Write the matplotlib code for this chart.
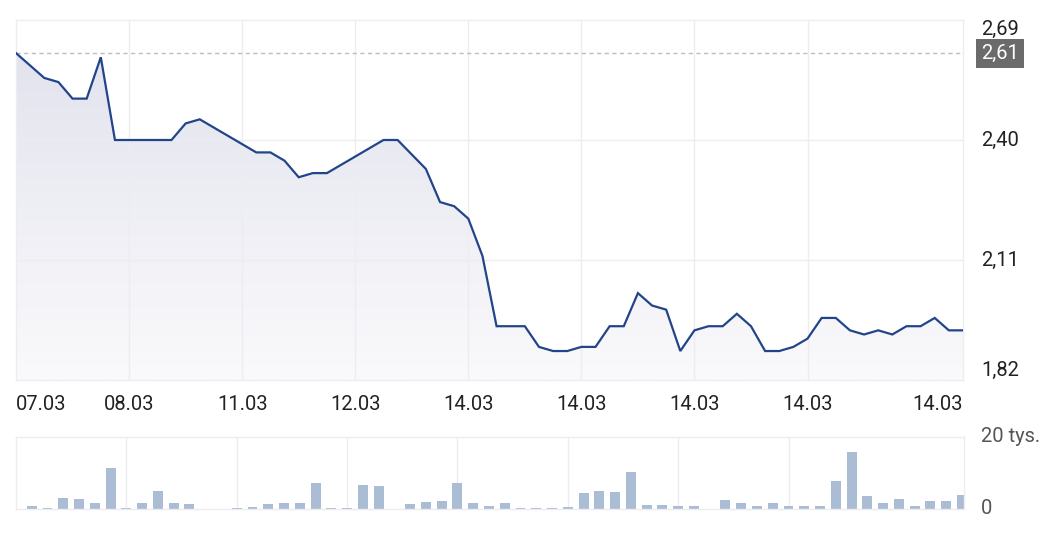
import numpy as np
import matplotlib
matplotlib.use("Agg")
import matplotlib.pyplot as plt
from matplotlib.colors import LinearSegmentedColormap

plt.rcParams['font.family'] = ['Roboto', 'DejaVu Sans']

# ---------------- data ----------------
prices = [2.61, 2.58, 2.55, 2.54, 2.50, 2.50, 2.60, 2.40, 2.40, 2.40,
          2.40, 2.40, 2.44, 2.45, 2.43, 2.41, 2.39, 2.37, 2.37, 2.35,
          2.31, 2.32, 2.32, 2.34, 2.36, 2.38, 2.40, 2.40, 2.365, 2.33,
          2.25, 2.24, 2.21, 2.12, 1.95, 1.95, 1.95, 1.90, 1.89, 1.89,
          1.90, 1.90, 1.95, 1.95, 2.03, 2.00, 1.99, 1.89, 1.94, 1.95,
          1.95, 1.98, 1.95, 1.89, 1.89, 1.90, 1.92, 1.97, 1.97, 1.94,
          1.93, 1.94, 1.93, 1.95, 1.95, 1.97, 1.94, 1.94]

volumes = [720, 360, 3170, 2700, 1720, 11300, 180, 1800, 5070, 1540,
           1360, 0, 0, 360, 630, 1270, 1630, 1720, 7330, 360,
           360, 6600, 6340, 100, 1360, 1810, 2260, 7330, 1540, 810,
           1640, 270, 180, 180, 640, 4550, 5000, 4800, 10300, 1000,
           1000, 730, 900, 0, 2550, 1640, 820, 1730, 820, 910,
           910, 7640, 15700, 3640, 1640, 2730, 820, 2270, 2090, 3860]

x_labels = ["07.03", "08.03", "11.03", "12.03", "14.03", "14.03", "14.03", "14.03", "14.03"]
x_label_idx = [0, 8, 16, 24, 32, 40, 48, 56, 67]
vol_grid_idx = [6, 13, 20, 27, 34, 41, 48]

y_ticks = [2.69, 2.40, 2.11, 1.82]
y_tick_labels = ["2,69", "2,40", "2,11", "1,82"]
ref_price = 2.61
ref_label = "2,61"
vol_max = 20000
vol_labels = ["20 tys.", "0"]

# ---------------- styling ----------------
W, H = 1046, 537
LINE = '#22458a'
GRID = '#ececf1'
BAR = '#abbcd5'
TXT = '#222222'
FS = 14.5

fig = plt.figure(figsize=(W / 100, H / 100), dpi=100)
fig.patch.set_facecolor('white')

# main price axes
ax = fig.add_axes([16 / W, 1 - 380 / H, 947 / W, 360 / H])
x = np.arange(len(prices))
ax.set_xlim(0, len(prices) - 1)
ax.set_ylim(y_ticks[-1], y_ticks[0])

# gradient fill under line
poly = ax.fill_between(x, prices, y_ticks[-1], facecolor='none', edgecolor='none')
grad = np.linspace(0, 1, 256).reshape(-1, 1)
cmap = LinearSegmentedColormap.from_list('g', ['#e1e1ed', '#fafafc'])
im = ax.imshow(grad, extent=[0, len(prices) - 1, y_ticks[-1], y_ticks[0]],
               aspect='auto', cmap=cmap, origin='upper', zorder=1)
path = poly.get_paths()[0]
im.set_clip_path(path, transform=ax.transData)

# grid
for i in x_label_idx[1:-1]:
    ax.axvline(i, color=GRID, lw=1, zorder=2)
for v in y_ticks[1:-1]:
    ax.axhline(v, color=GRID, lw=1, zorder=2)

ax.axhline(ref_price, color='#bdbdbd', lw=1, ls=(0, (3, 2.5)), zorder=3)
ax.plot(x, prices, color=LINE, lw=1.6, zorder=4, solid_joinstyle='miter')

ax.set_xticks([])
ax.set_yticks([])
for s in ax.spines.values():
    s.set_color(GRID)
    s.set_linewidth(1)

ytr = ax.get_yaxis_transform()
vas = ['top', 'center', 'center', 'bottom']
for v, lab, va in zip(y_ticks, y_tick_labels, vas):
    ax.text(1 + 18 / 947, v, lab, transform=ytr, ha='left', va=va,
            fontsize=FS, color=TXT)
ax.text(1 + 18 / 947, ref_price, ref_label, transform=ytr, ha='left', va='center',
        fontsize=FS, color='white',
        bbox=dict(boxstyle='square,pad=0.25', facecolor='#6b6b6b', edgecolor='none'))

xtr = ax.get_xaxis_transform()
for k, (i, lab) in enumerate(zip(x_label_idx, x_labels)):
    ha = 'left' if k == 0 else ('right' if k == len(x_labels) - 1 else 'center')
    ax.text(i, -25 / 360, lab, transform=xtr, ha=ha, va='center',
            fontsize=FS, color=TXT)

# volume axes
vx = fig.add_axes([16 / W, 1 - 509 / H, 948 / W, 72 / H])
vx.set_xlim(-1, len(volumes) - 0.87)
vx.set_ylim(0, vol_max)
for i in vol_grid_idx:
    vx.axvline(i, color=GRID, lw=1, zorder=1)
vx.bar(np.arange(len(volumes)), volumes, width=0.63, color=BAR, zorder=2)
vx.set_xticks([])
vx.set_yticks([])
for s in vx.spines.values():
    s.set_color(GRID)
    s.set_linewidth(1)
vtr = vx.get_yaxis_transform()
vx.text(1 + 17 / 948, vol_max, vol_labels[0], transform=vtr, ha='left', va='center',
        fontsize=FS, color='#555555')
vx.text(1 + 17 / 948, 0, vol_labels[1], transform=vtr, ha='left', va='center',
        fontsize=FS, color='#555555')

fig.savefig('out.png', dpi=100, facecolor='white')
